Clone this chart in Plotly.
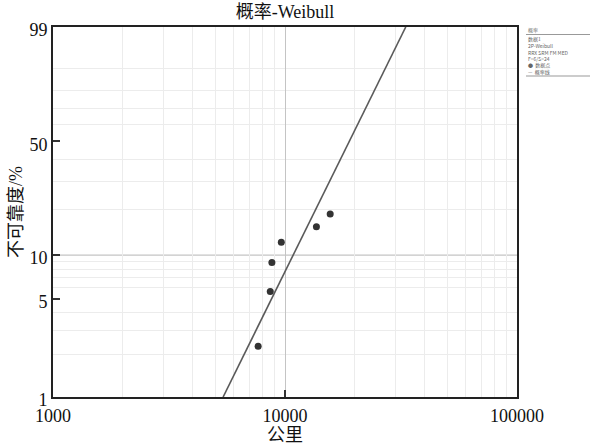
import numpy as np
import plotly.graph_objects as go

# ---- data ----
km_points = [7660, 8640, 8780, 9640, 13660, 15660]
unrel_points = [2.3, 5.6, 8.9, 12.2, 15.5, 18.8]   # percent
beta = 3.38
eta = 21100.0
line_F = [1, 99]                                   # percent ends of the probability line

y_tick_F = [1, 5, 10, 50, 99]
y_minor_F = [2, 3, 4, 6, 7, 8, 9, 20, 30, 40, 60, 70, 80, 90]
x_tick_vals = [1000, 10000, 100000]
x_minor_vals = [2000, 3000, 4000, 5000, 6000, 7000, 8000, 9000,
                20000, 30000, 40000, 50000, 60000, 70000, 80000, 90000]

legend_title = "概率"
legend_lines = ["数据1", "2P-Weibull", "RRX SRM FM MED", "F=6/S=24", "●  数据点", "—  概率线"]


def wscale(p_percent):
    p = np.asarray(p_percent, dtype=float) / 100.0
    return np.log(-np.log(1.0 - p))


line_x = [eta * (-np.log(1 - f / 100.0)) ** (1.0 / beta) for f in line_F]

SERIF = "Liberation Serif, 'Noto Sans CJK SC', serif"
W, H = 590, 448
ML, MR, MT, MB = 53, 73, 27, 51
PW, PH = W - ML - MR, H - MT - MB


def px_x(px):
    return (px - ML) / PW


def px_y(py):
    return 1 - (py - MT) / PH


fig = go.Figure()
fig.add_trace(go.Scatter(
    x=line_x, y=wscale(line_F), mode="lines",
    line=dict(color="#5a5a5a", width=1.6), showlegend=False, hoverinfo="skip"))
fig.add_trace(go.Scatter(
    x=km_points, y=wscale(unrel_points), mode="markers",
    marker=dict(color="#333333", size=7), showlegend=False))

# darker grid line at 10 %
fig.add_shape(type="line", xref="paper", x0=0, x1=1, yref="y",
              y0=float(wscale(10)), y1=float(wscale(10)),
              line=dict(color="#c4c4c4", width=1.2), layer="below")

fig.update_xaxes(
    type="log", range=[3, 5], automargin=False,
    tickmode="array", tickvals=x_tick_vals, ticktext=[str(v) for v in x_tick_vals],
    ticks="inside", ticklen=7, tickwidth=1.5, tickcolor="#333",
    showgrid=True, gridcolor="#c4c4c4", gridwidth=1.2,
    minor=dict(tickmode="array", tickvals=x_minor_vals, showgrid=True,
               gridcolor="#ececec", gridwidth=1.2, ticks=""),
    showline=True, linecolor="#222", linewidth=1.8, mirror=True,
    tickfont=dict(family=SERIF, size=18, color="#111"),
    ticklabelstandoff=1,
    title=dict(text="公里", font=dict(family=SERIF, size=18, color="#111"), standoff=3),
    zeroline=False,
)
fig.update_yaxes(
    range=[float(wscale(1)), float(wscale(99))], automargin=False,
    tickmode="array", tickvals=list(wscale(y_tick_F)), ticktext=[str(v) for v in y_tick_F],
    ticks="inside", ticklen=7, tickwidth=1.5, tickcolor="#333",
    showgrid=False,
    minor=dict(tickmode="array", tickvals=list(wscale(y_minor_F)), showgrid=True,
               gridcolor="#ececec", gridwidth=1.2, ticks=""),
    showline=True, linecolor="#222", linewidth=1.8, mirror=True,
    tickfont=dict(family=SERIF, size=18, color="#111"),
    ticklabelshift=3,
    title=dict(text="不可靠度/%", font=dict(family=SERIF, size=18, color="#111"), standoff=2),
    zeroline=False,
)

# small legend block on the right
LX = px_x(526)
STEP = 6.6
ann = [dict(text=legend_title, x=LX, y=px_y(30), xref="paper", yref="paper", xanchor="left",
            yanchor="middle", showarrow=False,
            font=dict(family="'Noto Sans CJK SC'", size=5, color="#777"))]
for i, t in enumerate(legend_lines):
    ann.append(dict(text=t, x=LX, y=px_y(39 + i * STEP), xref="paper", yref="paper",
                    xanchor="left", yanchor="middle", showarrow=False,
                    font=dict(family="'Noto Sans CJK SC'", size=5, color="#666")))
fig.update_layout(annotations=ann)
fig.add_shape(type="line", xref="paper", yref="paper", x0=LX, x1=1.25, y0=px_y(34.5), y1=px_y(34.5),
              line=dict(color="#999", width=1))
fig.add_shape(type="line", xref="paper", yref="paper", x0=LX, x1=1.25,
              y0=px_y(39 + 5 * STEP + 4), y1=px_y(39 + 5 * STEP + 4),
              line=dict(color="#999", width=1))

fig.update_layout(
    width=W, height=H,
    margin=dict(l=ML, r=MR, t=MT, b=MB),
    paper_bgcolor="white", plot_bgcolor="white",
    title=dict(text="概率-Weibull", x=0.5, xref="paper", y=1 - 12 / H, yref="container",
               yanchor="middle", font=dict(family=SERIF, size=18, color="#111")),
    showlegend=False,
)
fig.write_html("out.html", config={"displayModeBar": False},
               post_script="document.body.style.margin='0';document.body.style.overflow='hidden';")
